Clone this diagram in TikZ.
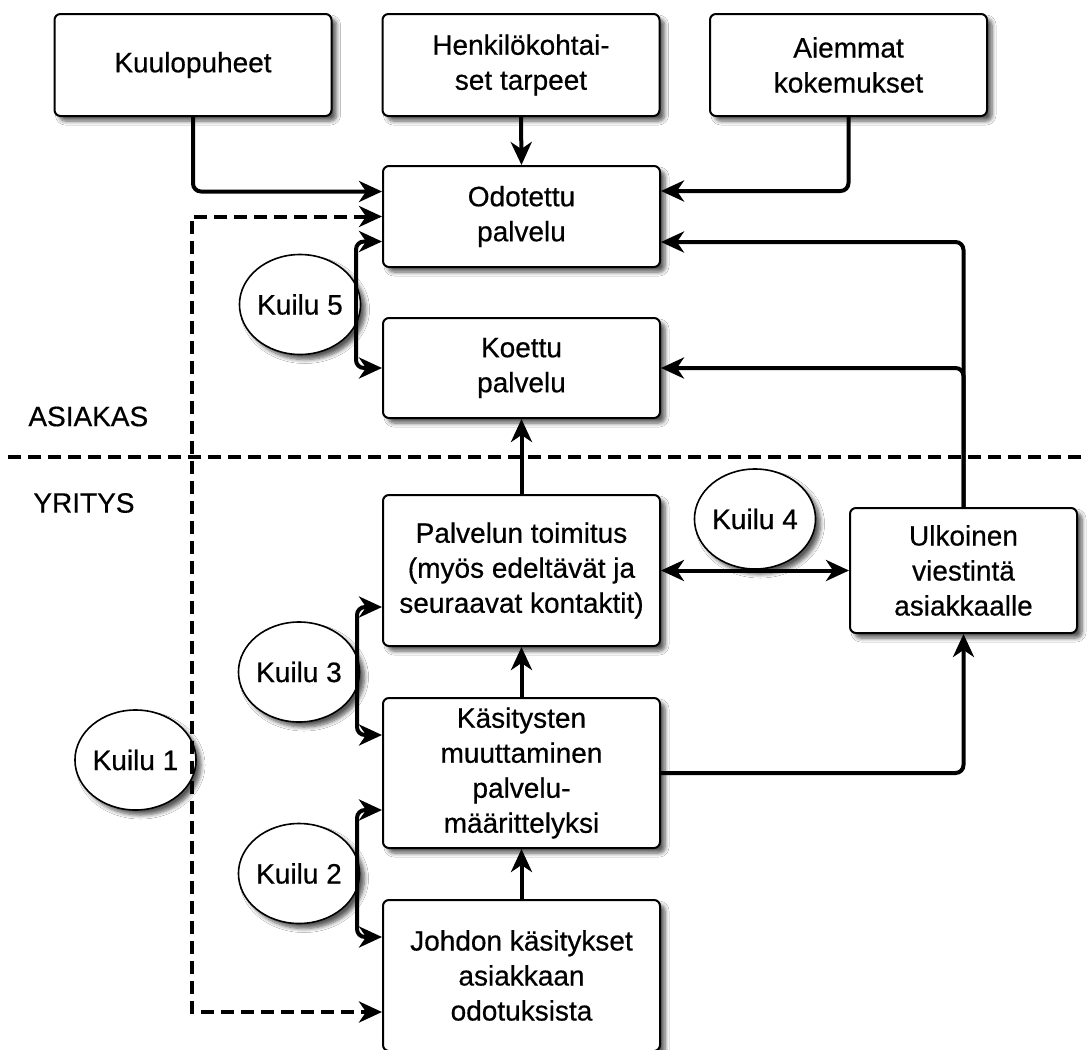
\documentclass[tikz,border=0pt]{standalone}
\usepackage{fontspec}
\setmainfont{Liberation Sans}[FakeBold=0.5]
\usetikzlibrary{arrows.meta,shapes.geometric,shadows.blur}

\tikzset{
  box/.style={draw=black, line width=1pt, fill=white, rounded corners=3pt,
    minimum width=138.5pt, align=center, inner sep=2pt,
    font=\fontsize{14}{17.5}\selectfont,
    blur shadow={shadow xshift=2.5pt, shadow yshift=-2.5pt,
      shadow blur steps=6, shadow opacity=65, shadow blur radius=2pt}},
  gap/.style={ellipse, draw=black, line width=0.8pt, fill=white,
    minimum width=56.5pt, minimum height=50pt, inner sep=0pt,
    font=\fontsize{14}{17.5}\selectfont,
    blur shadow={shadow xshift=2.5pt, shadow yshift=-2.5pt,
      shadow blur steps=6, shadow opacity=65, shadow blur radius=2pt}},
  tip/.tip={Stealth[length=11.5pt, width=10.5pt, inset=3.5pt]},
  conn/.style={line width=2pt, -tip, rounded corners=4pt},
  twoway/.style={line width=2pt, tip-tip, rounded corners=4pt},
  dashconn/.style={line width=2pt, tip-tip, dash pattern=on 6.5pt off 3.5pt},
  divider/.style={line width=2pt, dash pattern=on 6.5pt off 3.5pt},
  side/.style={anchor=west, font=\fontsize{14}{17.5}\selectfont, inner sep=0pt},
}

\begin{document}
\begin{tikzpicture}[x=0.5pt, y=-0.5pt]
  \fill[white] (0,0) rectangle (1088,1050);
  \useasboundingbox (0,0) rectangle (1088,1050);

  % customer side / company side divider
  \coordinate (divL) at (8,457);
  \coordinate (divR) at (1088,457);
  \draw[divider] (divL) -- (divR);
  \node[side] (asiakas) at (28,416.5) {ASIAKAS};
  \node[side] (yritys) at (33,503) {YRITYS};

  % boxes
  \node[box, minimum height=51pt] (kuulo) at (193,65) {Kuulopuheet};
  \node[box, minimum height=51pt] (henk) at (521,65) {Henkilökohtai-\\set tarpeet};
  \node[box, minimum height=51pt] (aiemmat) at (848.5,65) {Aiemmat\\kokemukset};
  \node[box, minimum height=50.5pt] (odot) at (521.5,216.5) {Odotettu\\palvelu};
  \node[box, minimum height=50pt] (koettu) at (521.5,368) {Koettu\\palvelu};
  \node[box, minimum height=75.5pt] (palv) at (521.5,570.5)
    {Palvelun toimitus\\(myös edeltävät ja\\seuraavat kontaktit)};
  \node[box, minimum height=75pt] (kasit) at (521.5,773)
    {Käsitysten\\muuttaminen\\palvelu-\\määrittelyksi};
  \node[box, minimum height=75.5pt] (johdon) at (521.5,975.5)
    {Johdon käsitykset\\asiakkaan\\odotuksista};
  \node[box, minimum width=113.5pt, minimum height=62.5pt] (ulko) at (963.5,570.5)
    {Ulkoinen\\viestintä\\asiakkaalle};

  % gap ellipses
  \node[gap] (k5) at (300,304.5) {Kuilu 5};
  \node[gap] (k4) at (755,519) {Kuilu 4};
  \node[gap] (k3) at (299,672) {Kuilu 3};
  \node[gap] (k2) at (299,873.5) {Kuilu 2};
  \node[gap] (k1) at (135.5,760) {Kuilu 1};

  % inputs to expected service
  \draw[conn] (kuulo.south) |- ([yshift=12.5pt]odot.west);
  \draw[conn] (henk.south) -- (odot.north);
  \draw[conn] (aiemmat.south) |- ([yshift=12.75pt]odot.east);

  % external communication
  \draw[conn] (ulko.north) |- ([yshift=-12.75pt]odot.east);
  \draw[conn] (ulko.north) |- (koettu.east);
  \draw[conn] (kasit.east) -| (ulko.south);
  \draw[twoway] (palv.east) -- (ulko.west);

  % delivery chain
  \draw[conn] (palv.north) -- (koettu.south);
  \draw[conn] (kasit.north) -- (palv.south);
  \draw[conn] (johdon.north) -- (kasit.south);

  % gap brackets
  \draw[twoway] ([yshift=-12.5pt]odot.west) -- ++(-26,0) |- (koettu.west);
  \draw[twoway] ([yshift=-18.25pt]palv.west) -- ++(-25,0) |- ([yshift=19pt]kasit.west);
  \draw[twoway] ([yshift=-18.5pt]kasit.west) -- ++(-25,0) |- ([yshift=19.25pt]johdon.west);

  % gap 1: expected service vs. management perceptions
  \coordinate (d1) at (192,1012);
  \draw[dashconn] (odot.west) -| (d1) -- ([yshift=-18.25pt]johdon.west);
\end{tikzpicture}
\end{document}
